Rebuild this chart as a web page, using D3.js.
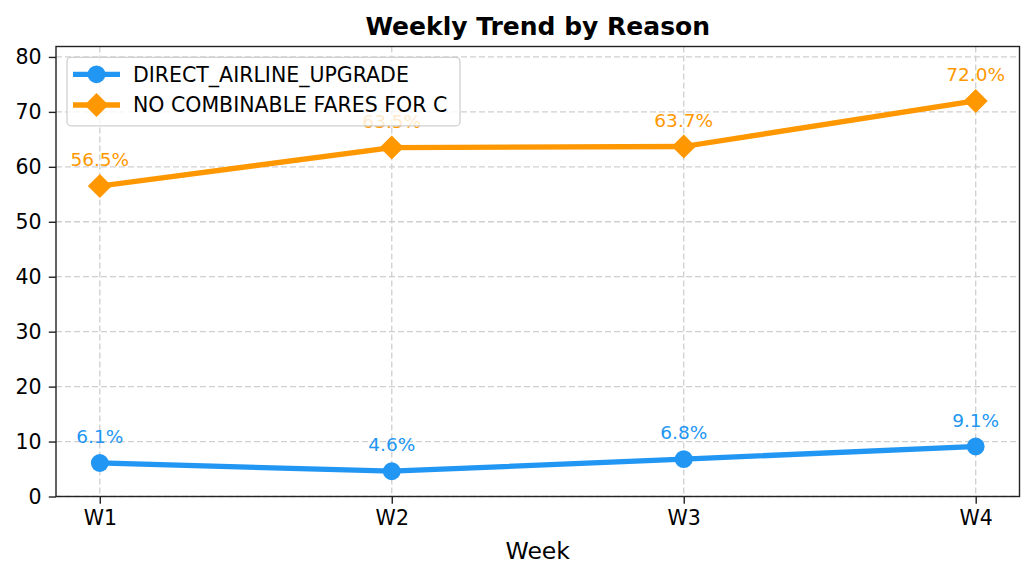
<!DOCTYPE html>
<html>
<head>
<meta charset="utf-8">
<script src="https://cdn.jsdelivr.net/npm/d3@7"></script>
<style>
  body { margin: 0; background: #fff; }
  svg { font-family: "DejaVu Sans", sans-serif; }
</style>
</head>
<body>
<svg width="1035" height="579"></svg>
<script>
const weeks = ["W1", "W2", "W3", "W4"];
const seriesNames = ["DIRECT_AIRLINE_UPGRADE", "NO COMBINABLE FARES FOR C"];
const upgradeValues = [6.1, 4.6, 6.8, 9.1];
const noFaresValues = [56.5, 63.5, 63.7, 72.0];
const yTicks = [0, 10, 20, 30, 40, 50, 60, 70, 80];

const svg = d3.select("svg");
const width = +svg.attr("width");
const margin = { top: 46.5, right: 15.5, bottom: 82.5, left: 56 };
const plotW = width - margin.left - margin.right;
const plotH = +svg.attr("height") - margin.top - margin.bottom;

const x = d3.scaleLinear().domain([-0.15, 3.15]).range([0, plotW]);
const y = d3.scaleLinear().domain([0, 81.9]).range([plotH, 0]);

const g = svg.append("g").attr("transform", `translate(${margin.left},${margin.top})`);

// grid
g.append("g")
  .selectAll("line.gx")
  .data(weeks)
  .join("line")
  .attr("x1", (d, i) => x(i))
  .attr("x2", (d, i) => x(i))
  .attr("y1", 0)
  .attr("y2", plotH);
g.append("g")
  .selectAll("line")
  .data(yTicks)
  .join("line")
  .attr("x1", 0)
  .attr("x2", plotW)
  .attr("y1", (d) => y(d))
  .attr("y2", (d) => y(d));
g.selectAll("g line")
  .attr("stroke", "#cfcfcf")
  .attr("stroke-width", 1.3)
  .attr("stroke-dasharray", "6,3");

const series = [
  { name: seriesNames[0], values: upgradeValues, color: "#2196F3", shape: "circle" },
  { name: seriesNames[1], values: noFaresValues, color: "#FF9800", shape: "diamond" },
];

const line = d3.line().x((d, i) => x(i)).y((d) => y(d));

function marker(sel, shape, color) {
  if (shape === "circle") {
    sel.append("circle").attr("r", 8.9).attr("fill", color);
  } else {
    sel.append("path").attr("d", "M0,-12L12,0L0,12L-12,0Z").attr("fill", color);
  }
}

series.forEach((s) => {
  g.append("path")
    .datum(s.values)
    .attr("d", line)
    .attr("fill", "none")
    .attr("stroke", s.color)
    .attr("stroke-width", 5.3)
    .attr("stroke-linejoin", "round")
    .attr("stroke-linecap", "square");
  g.selectAll(null)
    .data(s.values)
    .join("g")
    .attr("transform", (d, i) => `translate(${x(i)},${y(d)})`)
    .each(function () { marker(d3.select(this), s.shape, s.color); });
  g.selectAll(null)
    .data(s.values)
    .join("text")
    .attr("x", (d, i) => x(i))
    .attr("y", (d) => y(d) - 20)
    .attr("text-anchor", "middle")
    .attr("font-size", 18.5)
    .attr("fill", s.color)
    .text((d) => d.toFixed(1) + "%");
});

// axes
const yAxis = g.append("g")
  .call(d3.axisLeft(y).tickValues(yTicks).tickSize(7.2).tickPadding(7.2));
const xAxis = g.append("g")
  .attr("transform", `translate(0,${plotH})`)
  .call(d3.axisBottom(x).tickValues([0, 1, 2, 3]).tickFormat((d) => weeks[d]).tickSize(7.2).tickPadding(7.2));
[yAxis, xAxis].forEach((a) => {
  a.attr("font-size", null).attr("font-family", null);
  a.select(".domain").remove();
  a.selectAll(".tick line").attr("stroke", "#222").attr("stroke-width", 1.4);
  a.selectAll(".tick text").attr("font-size", 20.5).attr("fill", "#000");
});

g.append("rect")
  .attr("width", plotW)
  .attr("height", plotH)
  .attr("fill", "none")
  .attr("stroke", "#222")
  .attr("stroke-width", 1.4);

// legend
const leg = g.append("g").attr("transform", `translate(${67 - margin.left},${57.3 - margin.top})`);
leg.append("rect")
  .attr("width", 393)
  .attr("height", 68.5)
  .attr("rx", 4)
  .attr("fill", "#fff")
  .attr("fill-opacity", 0.8)
  .attr("stroke", "#d0d0d0")
  .attr("stroke-width", 1.3);
series.forEach((s, i) => {
  const row = leg.append("g").attr("transform", `translate(0,${17 + i * 30.7})`);
  row.append("line")
    .attr("x1", 6).attr("x2", 53)
    .attr("stroke", s.color).attr("stroke-width", 5.3);
  const m = row.append("g").attr("transform", "translate(29.5,0)");
  marker(m, s.shape, s.color);
  row.append("text")
    .attr("x", 66)
    .attr("y", 7.4)
    .attr("font-size", 20.5)
    .attr("fill", "#000")
    .text(s.name);
});

// title and label
svg.append("text")
  .attr("x", margin.left + plotW / 2)
  .attr("y", 34.5)
  .attr("text-anchor", "middle")
  .attr("font-size", 25)
  .attr("font-weight", "bold")
  .text("Weekly Trend by Reason");
svg.append("text")
  .attr("x", margin.left + plotW / 2)
  .attr("y", 559)
  .attr("text-anchor", "middle")
  .attr("font-size", 23.5)
  .text("Week");
</script>
</body>
</html>
